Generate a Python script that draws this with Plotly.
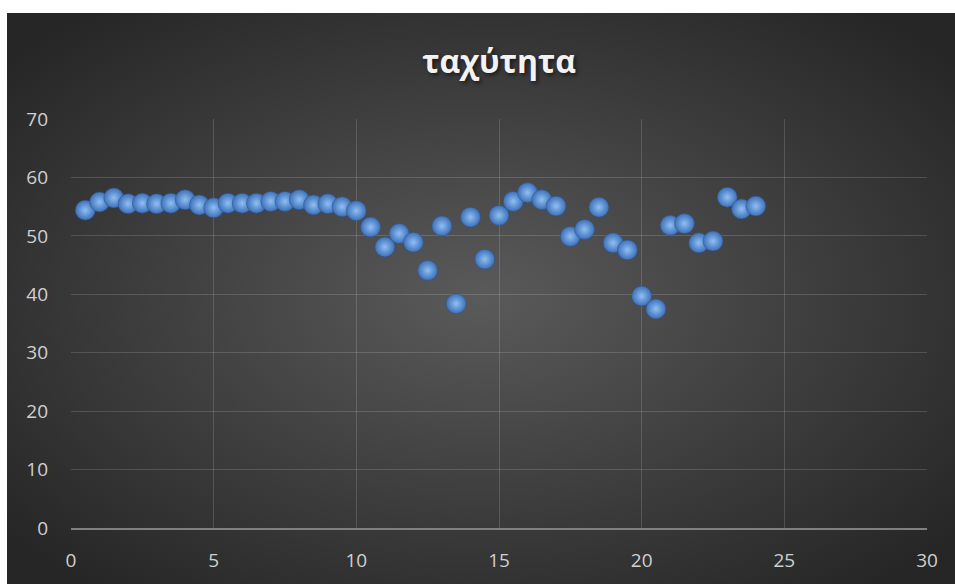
import base64
import plotly.graph_objects as go

# Data
x_vals = [0.5, 1, 1.5, 2, 2.5, 3, 3.5, 4, 4.5, 5, 5.5, 6, 6.5, 7, 7.5, 8, 8.5, 9, 9.5, 10,
          10.5, 11, 11.5, 12, 12.5, 13, 13.5, 14, 14.5, 15, 15.5, 16, 16.5, 17, 17.5, 18,
          18.5, 19, 19.5, 20, 20.5, 21, 21.5, 22, 22.5, 23, 23.5, 24]
speed = [54.4, 55.8, 56.5, 55.5, 55.6, 55.5, 55.6, 56.2, 55.3, 54.8, 55.6, 55.6, 55.6, 55.9,
         55.9, 56.2, 55.3, 55.5, 55.0, 54.3, 51.5, 48.1, 50.4, 48.9, 44.1, 51.7, 38.4, 53.2,
         46.0, 53.5, 55.9, 57.4, 56.2, 55.1, 49.9, 51.1, 54.9, 48.8, 47.6, 39.7, 37.5, 51.8,
         52.1, 48.8, 49.1, 56.6, 54.6, 55.1]
title_text = "ταχύτητα"
x_ticks = [0, 5, 10, 15, 20, 25, 30]
y_ticks = [0, 10, 20, 30, 40, 50, 60, 70]

W, H = 955, 584
L, R, T, B = 71, 28, 119, 56
pw, ph = W - L - R, H - T - B

# radial gradient background as svg
svg = f'''<svg xmlns="http://www.w3.org/2000/svg" width="948" height="571" viewBox="0 0 948 571" preserveAspectRatio="none">
<defs><radialGradient id="g" cx="50%" cy="50%" r="65%">
<stop offset="0%" stop-color="#5a5a5a"/><stop offset="100%" stop-color="#262626"/></radialGradient></defs>
<rect width="948" height="571" fill="url(#g)"/></svg>'''
src = "data:image/svg+xml;base64," + base64.b64encode(svg.encode()).decode()

bg_x0, bg_y0 = 7, 13
img = dict(source=src, xref="paper", yref="paper",
           x=(bg_x0 - L) / pw, y=(H - B - bg_y0) / ph,
           sizex=(W - bg_x0) / pw, sizey=(H - bg_y0) / ph,
           sizing="stretch", xanchor="left", yanchor="top", layer="below")

fig = go.Figure()
fig.add_trace(go.Scatter(
    x=x_vals, y=speed, mode="markers",
    marker=dict(size=20, color="#3d70b8",
                gradient=dict(type="radial", color="#8fbff3"),
                line=dict(width=0.5, color="#2b5590")),
    cliponaxis=False, showlegend=False,
))

grid = "rgba(255,255,255,0.15)"
tickfont = dict(family="Open Sans, sans-serif", size=19, color="#d0d0d0")
fig.update_layout(
    width=W, height=H,
    margin=dict(l=L, r=R, t=T, b=B, pad=0),
    paper_bgcolor="white", plot_bgcolor="rgba(0,0,0,0)",
    images=[img],
    title=dict(text=f"<b>{title_text}</b>", x=0.5, xref="paper", xanchor="center",
               y=1 - 62 / H, yref="container", yanchor="middle",
               font=dict(family="Open Sans, sans-serif", size=32, color="#f2f2f2",
                         shadow="2px 2px 4px rgba(0,0,0,0.6)")),
    xaxis=dict(range=[0, 30], tickvals=x_ticks, showgrid=True, gridcolor=grid, gridwidth=1,
               zeroline=False, showline=True, linecolor="#808080", linewidth=2,
               ticks="", tickfont=tickfont, ticklabelstandoff=14, fixedrange=True),
    yaxis=dict(range=[0, 70], tickvals=y_ticks, showgrid=True, gridcolor=grid, gridwidth=1,
               zeroline=False, showline=False, ticks="", tickfont=tickfont,
               ticklabelstandoff=22, fixedrange=True),
)
fig.write_html("out.html")
